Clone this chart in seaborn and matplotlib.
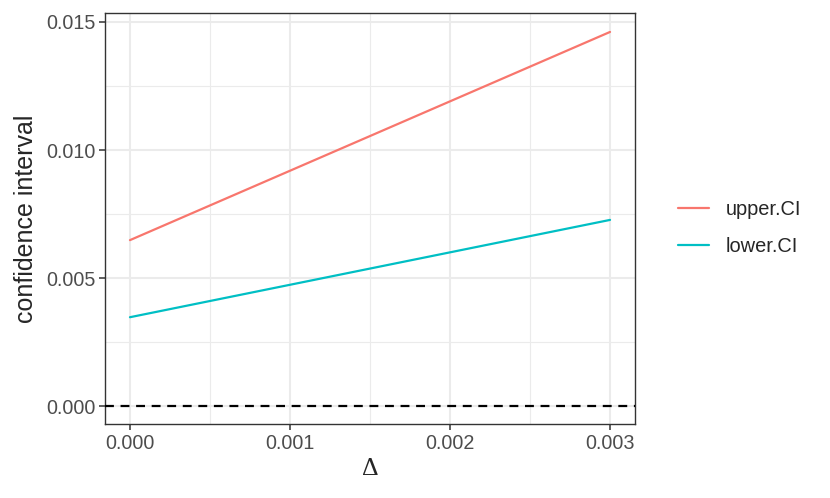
import numpy as np
import pandas as pd
import matplotlib
matplotlib.use("Agg")
import matplotlib.pyplot as plt
import seaborn as sns
from matplotlib.ticker import MultipleLocator, FormatStrFormatter
from matplotlib.lines import Line2D

delta = [0.0, 0.003]
upper_ci = [0.00648, 0.01461]
lower_ci = [0.00347, 0.00727]
series_names = ["upper.CI", "lower.CI"]
colors = ["#F8766D", "#00BFC4"]

df = pd.DataFrame({
    "delta": delta * 2,
    "value": upper_ci + lower_ci,
    "series": [series_names[0]] * len(delta) + [series_names[1]] * len(delta),
})

sns.set_theme(style="white")
plt.rcParams["font.family"] = ["Liberation Sans", "DejaVu Sans"]

fig = plt.figure(figsize=(8.3, 4.98), dpi=100)
ax = fig.add_axes([105/830, 74/498, 530/830, 411/498])

sns.lineplot(data=df, x="delta", y="value", hue="series", hue_order=series_names,
             palette=colors, linewidth=1.6, ax=ax, legend=False, zorder=3)
ax.axhline(0, color="black", linestyle=(0, (4, 3)), linewidth=1.6, zorder=3)

ax.set_xlim(-0.000156, 0.003156)
ax.set_ylim(-0.0007, 0.01535)
ax.xaxis.set_major_locator(MultipleLocator(0.001))
ax.xaxis.set_minor_locator(MultipleLocator(0.0005))
ax.yaxis.set_major_locator(MultipleLocator(0.005))
ax.yaxis.set_minor_locator(MultipleLocator(0.0025))
ax.xaxis.set_major_formatter(FormatStrFormatter("%.3f"))
ax.yaxis.set_major_formatter(FormatStrFormatter("%.3f"))

ax.grid(which="major", color="#EBEBEB", linewidth=1.5, zorder=0)
ax.grid(which="minor", color="#EBEBEB", linewidth=0.8, zorder=0)
ax.set_axisbelow(True)

for s in ax.spines.values():
    s.set_color("#333333")
    s.set_linewidth(1.0)

ax.tick_params(axis="both", which="major", length=4.5, width=1.1, color="#333333",
               labelcolor="#4D4D4D", labelsize=14.2, pad=2.5, bottom=True, left=True)
ax.tick_params(axis="both", which="minor", length=0)

ax.set_xlabel("Δ", fontsize=18.5, family=["Liberation Serif", "DejaVu Serif"], labelpad=4)
ax.set_ylabel("confidence interval", fontsize=18, labelpad=6)

handles = [Line2D([], [], color=c, linewidth=1.6) for c in colors]
fig.legend(handles, series_names, loc="center left", bbox_to_anchor=(678/830, 1 - 228/498),
           frameon=False, fontsize=14.4, handlelength=1.55, handletextpad=0.85,
           labelspacing=0.88, borderpad=0, borderaxespad=0)

fig.savefig("out.png", dpi=100)
